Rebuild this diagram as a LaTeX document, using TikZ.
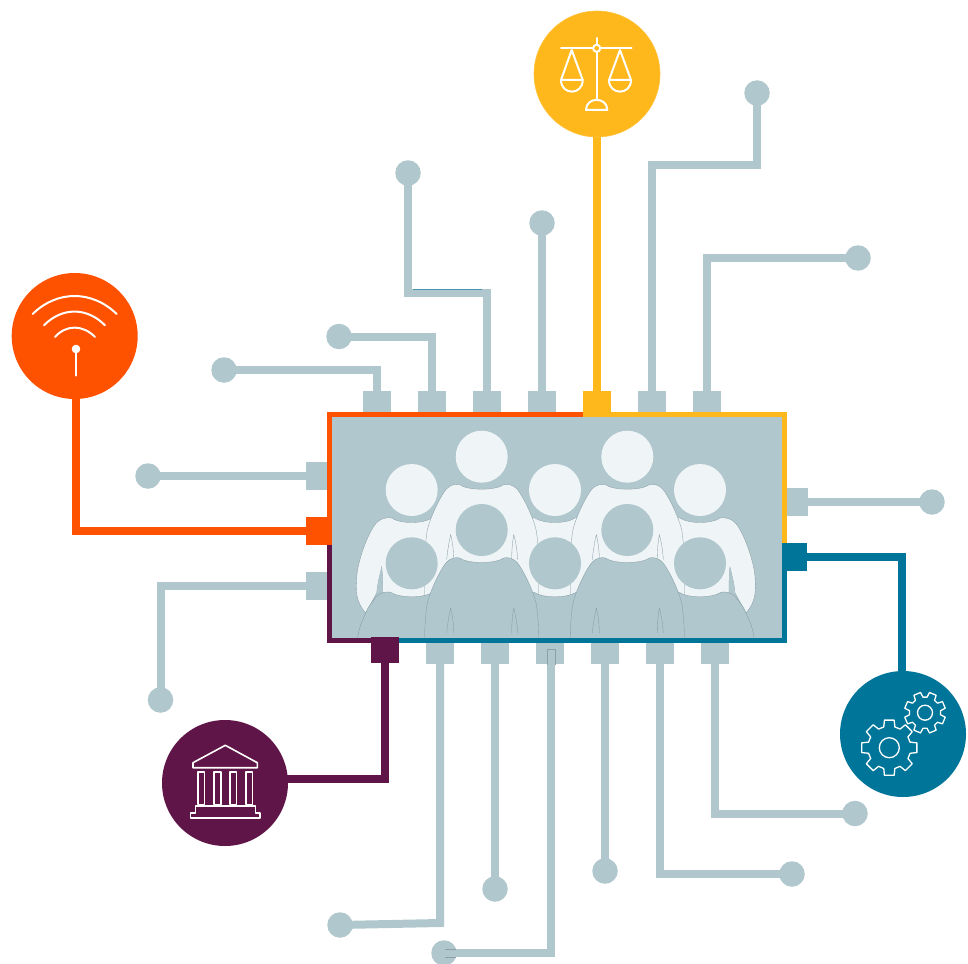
\documentclass[tikz,border=0pt]{standalone}
\usetikzlibrary{backgrounds}
\definecolor{cbg}{HTML}{AFC7CD}
\definecolor{clight}{HTML}{EFF4F6}
\definecolor{cedge}{HTML}{8198A0}
\definecolor{corange}{HTML}{FF5200}
\definecolor{cyellow}{HTML}{FFB81C}
\definecolor{cteal}{HTML}{00759A}
\definecolor{cpurple}{HTML}{5F1548}
\tikzset{
  padv/.style={rectangle,draw=none,inner sep=0pt,minimum width=28pt,minimum height=21pt,fill=cbg},
  padh/.style={rectangle,draw=none,inner sep=0pt,minimum width=21pt,minimum height=28pt,fill=cbg},
  dotend/.style={circle,draw=none,inner sep=0pt,minimum size=25.5pt,fill=cbg},
  hub/.style={circle,draw=none,inner sep=0pt,minimum size=126pt},
  wire/.style={line width=8pt,color=cbg,line join=miter},
  edgeline/.style={line width=5pt,line join=miter},
  icon/.style={draw=white,line width=2pt,line join=round},
  fine/.style={draw=cedge,line width=.3pt},
  seam/.style={draw=cedge!80!cbg,line width=.5pt},
}
% body of a person, relative to the head centre
\newcommand{\bodytorso}[3]{%
  \begin{scope}[shift={(#1,#2)}]
    \path[fill=#3,fine] (-22,28) .. controls (-14,34) and (14,34) .. (22,28)
      .. controls (26,27) and (31,28) .. (35,32)
      .. controls (42,40) and (54,66) .. (55,77)
      .. controls (56,85) and (57,95) .. (57,108)
      -- (57,200) -- (-57,200) -- (-57,108)
      .. controls (-57,95) and (-56,85) .. (-55,77)
      .. controls (-54,66) and (-42,40) .. (-35,32)
      .. controls (-31,28) and (-26,27) .. (-22,28) -- cycle;
    \path[fine] (-35,103) .. controls (-34,92) and (-32,82) .. (-31,78) .. controls (-29,86) and (-28,95) .. (-28,103);
    \path[fine] (30,103) .. controls (30,92) and (31,84) .. (32,78) .. controls (34,85) and (35.5,94) .. (36,103);
  \end{scope}}
\newcommand{\bodyarms}[2]{%
  \begin{scope}[shift={(#1,#2)}]
    \path[fill=clight,fine] (-20,28) .. controls (-12,34) and (12,34) .. (20,28)
      .. controls (24,27) and (32,28) .. (37,35)
      .. controls (45,46) and (54,72) .. (55,87)
      .. controls (56,100) and (56,112) .. (46,123)
      -- (35,103) .. controls (34,92) and (31,82) .. (30,77)
      .. controls (29,86) and (29,95) .. (29,103) -- (29,160) -- (-29,160) -- (-29,103)
      .. controls (-29,95) and (-29,86) .. (-30,77)
      .. controls (-31,82) and (-34,92) .. (-35,103) -- (-46,123)
      .. controls (-56,112) and (-56,100) .. (-55,87)
      .. controls (-54,72) and (-45,46) .. (-37,35)
      .. controls (-32,28) and (-24,27) .. (-20,28) -- cycle;
    \fill[cbg] (-35,103) .. controls (-34,92) and (-31,82) .. (-30,77) .. controls (-29,86) and (-29,95) .. (-29,103) -- cycle;
    \fill[cbg] (35,103) .. controls (34,92) and (31,82) .. (30,77) .. controls (29,86) and (29,95) .. (29,103) -- cycle;
  \end{scope}}
\newcommand{\bodyfront}[2]{%
  \begin{scope}[shift={(#1,#2)}]
    \path[fill=cbg,fine] (-21,29) .. controls (-12,35) and (12,35) .. (21,29)
      .. controls (25,28) and (31,29) .. (35,33)
      .. controls (40,39) and (44,44) .. (46,50)
      .. controls (50,58) and (53,66) .. (54,74) -- (54,120) -- (-54,120) -- (-54,74)
      .. controls (-53,66) and (-50,58) .. (-46,50)
      .. controls (-44,44) and (-40,39) .. (-35,33)
      .. controls (-31,29) and (-25,28) .. (-21,29) -- cycle;
  \end{scope}}
\newcommand{\gearshape}[6]{% x y outer root hole start
  \begin{scope}[shift={(#1,#2)}]
    \draw[draw=white,line width=1.3pt,line join=round]
      (#6-10:#3) \foreach \ga in {0,45,...,315} {
        -- (#6+\ga-10:#3) -- (#6+\ga+10:#3) -- (#6+\ga+15:#4) -- (#6+\ga+30:#4) } -- cycle;
    \draw[draw=white,line width=1.3pt] (0,0) circle[radius=#5];
  \end{scope}}
\begin{document}
\begin{tikzpicture}[x=1pt,y=-1pt]
\useasboundingbox (0,0) rectangle (968,963);
% board
\fill[cbg] (329.5,414.5) rectangle (784.5,640.5);
\begin{scope}
  \clip (332,417) rectangle (782,637.5);
  \bodyarms{411.7}{490}
  \bodyarms{700}{490}
  \bodyarms{555}{490}
  \bodytorso{481.7}{456.7}{clight}
  \bodytorso{627.3}{456.7}{clight}
  \bodyfront{411.7}{563.3}
  \bodyfront{555}{563.3}
  \bodyfront{700}{563.3}
  \bodytorso{481.7}{530}{cbg}
  \bodytorso{627.3}{530}{cbg}
  \foreach \hx/\hy in {411.7/490,481.7/456.7,555/490,627.3/456.7,700/490}
    \fill[clight] (\hx,\hy) circle[radius=26];
  \foreach \hx/\hy in {411.7/563.3,481.7/530,555/563.3,627.3/530,700/563.3}
    \fill[cbg] (\hx,\hy) circle[radius=26];
\end{scope}
\draw[edgeline,corange] (329.5,545) -- (329.5,414.5) -- (583,414.5);
\draw[edgeline,cyellow] (583,414.5) -- (784.5,414.5) -- (784.5,543);
\draw[edgeline,cteal] (784.5,543) -- (784.5,640.5) -- (399,640.5);
\draw[edgeline,cpurple] (399,640.5) -- (329.5,640.5) -- (329.5,545);
% pads
\node[padv] (t1) at (377,401.5) {};
\node[padv] (t2) at (432,401.5) {};
\node[padv] (t3) at (487,401.5) {};
\node[padv] (t4) at (542,401.5) {};
\node[padv,fill=cyellow,minimum height=26pt] (t5) at (597,404) {};
\node[padv] (t6) at (652,401.5) {};
\node[padv] (t7) at (707,401.5) {};
\node[padh] (l1) at (316.5,476) {};
\node[padh,fill=corange,minimum width=26pt] (l2) at (319,531) {};
\node[padh] (l3) at (316.5,586) {};
\node[padh] (r1) at (797,502) {};
\node[padh,fill=cteal,minimum width=25pt] (r2) at (794.5,557) {};
\node[padv,fill=cpurple,minimum height=26pt] (b0) at (385,650) {};
\node[padv] (b1) at (440,653) {};
\node[padv] (b2) at (495,653) {};
\node[padv] (b3) at (550,653) {};
\node[padv] (b4) at (605,653) {};
\node[padv] (b5) at (660,653) {};
\node[padv] (b6) at (715,653) {};
% terminals
\node[dotend] (dt1) at (224,370) {};
\node[dotend] (dt2) at (339,336.5) {};
\node[dotend] (dt3) at (408,173) {};
\node[dotend] (dt4) at (542,223) {};
\node[dotend] (dt6) at (757,93) {};
\node[dotend] (dt7) at (858,258) {};
\node[dotend] (dl1) at (148,476) {};
\node[dotend] (dl3) at (160.5,700) {};
\node[dotend] (dr1) at (932,502) {};
\node[dotend] (db1) at (340,925) {};
\node[dotend] (db2) at (495,889) {};
\node[dotend] (db3) at (444,953) {};
\node[dotend] (db4) at (605,871) {};
\node[dotend] (db5) at (792,874) {};
\node[dotend] (db6) at (855,813.5) {};
% hubs
\node[hub,fill=cyellow,draw=cyellow!85!white,line width=.6pt] (hy) at (597,74) {};
\node[hub,fill=corange] (ho) at (74.7,336) {};
\node[hub,fill=cpurple] (hp) at (225,783) {};
\node[hub,fill=cteal] (ht) at (903,734) {};
% bends
\coordinate (c1) at (377,370);
\coordinate (c2) at (432,336.5);
\coordinate (c3a) at (487,293);
\coordinate (c3b) at (408,293);
\coordinate (c6a) at (652,165);
\coordinate (c6b) at (757,165);
\coordinate (c7) at (707,258);
\coordinate (cl2) at (76,531);
\coordinate (cl3) at (160.5,586);
\coordinate (cr2) at (902,557);
\coordinate (cb0) at (385,779);
\coordinate (cb1) at (440,923);
\coordinate (cb3a) at (551,653);
\coordinate (cb3) at (551,953);
\coordinate (cb5) at (660,874);
\coordinate (cb6) at (715,813.5);
\begin{scope}[on background layer]
  \draw[wire] (t1.center) -- (c1) -- (dt1.center);
  \draw[wire] (t2.center) -- (c2) -- (dt2.center);
  \draw[wire] (t3.center) -- (c3a) -- (c3b) -- (dt3.center);
  \draw[wire] (t4.center) -- (dt4.center);
  \draw[wire,cyellow] (t5.center) -- (hy.center);
  \draw[wire] (t6.center) -- (c6a) -- (c6b) -- (dt6.center);
  \draw[wire] (t7.center) -- (c7) -- (dt7.center);
  \draw[wire] (l1.center) -- (dl1.center);
  \draw[wire,corange] (l2.center) -- (cl2) -- (ho.center -| cl2);
  \draw[wire] (l3.center) -- (cl3) -- (dl3.center);
  \draw[wire] (r1.center) -- (dr1.center);
  \draw[wire,cteal] (r2.center) -- (cr2) -- (ht.center -| cr2);
  \draw[wire,cpurple] (b0.center) -- (cb0) -- (hp.center |- cb0);
  \draw[wire] (b1.center) -- (cb1) -- (db1.center);
  \draw[wire] (b2.center) -- (db2.center);
  \draw[wire] (cb3a) -- (cb3) -- (db3.center);
  \draw[wire] (b4.center) -- (db4.center);
  \draw[wire] (b5.center) -- (cb5) -- (db5.center);
  \draw[wire] (b6.center) -- (cb6) -- (db6.center);
\end{scope}
% faint seams on the wires
\draw[seam] (547,665) -- (547,649.5) -- (555,649.5) -- (555,665);
\draw[seam] (445,949) -- (456,949);
\draw[seam] (445,957) -- (456,957);
\draw[draw=cteal!60!cbg,line width=.6pt] (413,289.3) -- (482,289.3);
% scales icon
\begin{scope}[icon]
  \draw[line cap=round] (561,48.3) -- (631.7,48.3);
  \draw[line cap=round] (596.7,38) -- (596.7,100);
  \draw[fill=cyellow] (596.7,48.3) circle[radius=3.6];
  \draw (586,110) .. controls (586,96.5) and (607.3,96.5) .. (607.3,110) -- cycle;
  \draw (561,80) -- (571.7,50) -- (582.7,80);
  \draw (561,80) -- (582.7,80) .. controls (582.7,95.5) and (561,95.5) .. (561,80);
  \draw (609,80) -- (620,50) -- (631,80);
  \draw (609,80) -- (631,80) .. controls (631,95.5) and (609,95.5) .. (609,80);
\end{scope}
% wifi icon
\begin{scope}[line width=2pt,line cap=round]
  \draw[white] (32.7,314) .. controls (57,290) and (92,290) .. (116.7,314);
  \draw[white] (44,325.3) .. controls (62,307) and (87,307) .. (105,325.3);
  \draw[white] (55,337) .. controls (66,324.5) and (83,324.5) .. (95,337);
  \fill[white] (76,349) circle[radius=4.3];
  \draw[white,line width=2.4pt] (76,350) -- (76,375.5);
\end{scope}
% bank icon
\begin{scope}[icon,line width=1.6pt]
  \draw (193,762.7) -- (225.3,745.3) -- (257.3,762.7) -- (257.3,767.7) -- (193,767.7) -- cycle;
  \draw (198,771.7) rectangle (204.5,804.3);
  \draw (214,771.7) rectangle (220.7,804.3);
  \draw (229.7,771.7) rectangle (236.3,804.3);
  \draw (245.7,771.7) rectangle (252.3,804.3);
  \draw (195.3,806) -- (195.3,812.7) -- (190.3,812.7) -- (190.3,817.7) -- (259.7,817.7) -- (259.7,812.7) -- (255.3,812.7) -- (255.3,806) -- cycle;
\end{scope}
% gears
\gearshape{889.3}{747.7}{28}{21.5}{10}{0}
\gearshape{925}{712.7}{20.7}{15.7}{7.5}{22.5}
\end{tikzpicture}
\end{document}
